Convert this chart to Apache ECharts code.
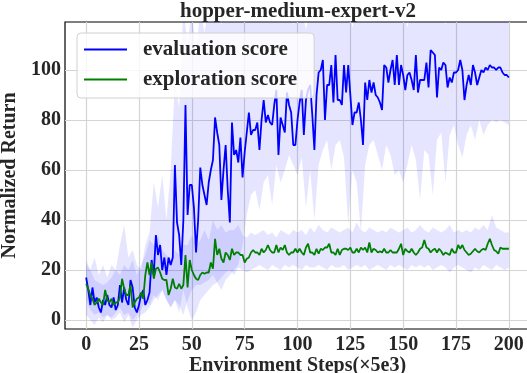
<!DOCTYPE html>
<html>
<head>
<meta charset="utf-8">
<script src="https://cdn.jsdelivr.net/npm/echarts@6/dist/echarts.min.js"></script>
<style>
html, body { margin: 0; padding: 0; background: #fff; }
#chart { width: 527px; height: 373px; }
</style>
</head>
<body>
<div id="chart"></div>
<script>
// one value per step, x = 0..200
var evalScore = [
    17, 12, 6, 13, 7, 9, 5, 3, 8, 6,
    10, 6, 5, 9, 4, 6, 14, 7, 13, 8,
    6, 16, 13, 5, 3, 6, 10, 12, 6, 8,
    11, 24, 18, 34, 26, 30, 20, 25, 18, 25,
    22, 25, 62, 39, 34, 22, 40, 86, 42, 54,
    54, 45, 27, 40, 61, 54, 50, 46, 55, 60,
    64, 81, 75, 70, 48, 60, 70, 52, 39, 79,
    66, 68, 63, 73, 57, 67, 75, 83, 74, 76,
    76, 79, 68, 80, 88, 79, 82, 79, 78, 86,
    92, 66, 81, 78, 75, 91, 86, 83, 70, 70,
    80, 87, 92, 74, 88, 92, 94, 82, 68, 90,
    99, 100, 104, 80, 94, 94, 102, 87, 106, 88,
    88, 86, 102, 91, 102, 90, 78, 83, 83, 87,
    80, 70, 95, 88, 96, 91, 95, 90, 89, 87,
    84, 102, 101, 95, 100, 104, 94, 106, 94, 102,
    98, 92, 98, 99, 96, 92, 106, 91, 96, 96,
    96, 103, 93, 108, 107, 106, 89, 101, 100, 103,
    102, 93, 97, 95, 99, 99, 100, 104, 100, 88,
    94, 98, 94, 102, 99, 94, 97, 100, 99, 101,
    100, 102, 101, 101, 100, 101, 101, 99, 98, 98,
    97
]
var exploreScore = [
    14.5, 12.5, 10, 8.5, 6, 7, 8.5, 7, 6, 12,
    8, 7, 8.5, 6, 7, 7, 9, 16.5, 12.5, 10,
    10, 14, 5, 7, 8.5, 9, 11, 8.5, 18, 23,
    18, 23, 16.5, 20.5, 21, 19, 16.5, 16, 16, 10,
    12.5, 16.5, 13, 12.5, 14.5, 12.5, 14, 26, 13, 24,
    20, 18, 16.5, 16, 18, 19, 18.5, 19, 19, 23,
    20.5, 32.5, 26, 28.5, 24.5, 23, 27, 26, 24, 28.5,
    26, 27, 27, 26, 26, 23, 24.5, 25, 27, 28,
    27, 27, 26, 28.5, 27, 28, 30, 28, 27, 27,
    30, 27, 29, 28, 30, 27, 26, 27, 27, 28.5,
    27, 28.5, 27, 26, 29, 30.5, 27, 27, 26, 28.5,
    26.5, 28.5, 28, 29, 29, 30.5, 27, 27, 26, 28.5,
    26, 28, 28.5, 28.5, 28, 29, 27, 27, 28.5, 27,
    29, 28, 29, 27, 31, 27, 28.5, 28, 27, 27.5,
    27, 28.5, 27, 27, 28, 27, 27, 27, 28.5, 30.5,
    26, 28.5, 27.5, 27, 28.5, 27, 26, 27, 28.5, 29,
    32, 29, 28.5, 27, 28, 28.5, 27, 28.5, 27.5, 26,
    27, 26.5, 26, 28.5, 27, 27, 30, 28.5, 30, 28,
    27, 26, 26.5, 27.5, 28.5, 27.5, 27, 28, 28.5, 28,
    30.5, 32.5, 30, 28, 27.5, 26.5, 29, 28.5, 28.5, 28.5,
    28.5
]
// shaded bands, one value every 2 steps, x = 0, 2, ..., 200
var evalUpper = [
    24, 20, 25, 18, 22, 17, 22, 20, 30, 38,
    25, 28, 22, 20, 30, 35, 55, 45, 58, 40,
    60, 95, 85, 125, 110, 125, 105, 125, 115, 125,
    125, 125, 118, 125, 125, 125, 120, 125, 125, 125,
    125, 122, 125, 125, 125, 125, 125, 125, 125, 118,
    125, 125, 116, 125, 120, 125, 125, 125, 125, 125,
    125, 125, 125, 117, 125, 125, 125, 125, 125, 125,
    125, 125, 125, 125, 125, 125, 117, 125, 125, 125,
    125, 125, 125, 125, 125, 118, 125, 125, 125, 125,
    125, 125, 125, 125, 125, 125, 125, 125, 125, 125,
    125
]
var evalLower = [
    2, 0, -2, 1, -1, 2, 0, 1, 3, -1,
    2, -3, 0, 2, 3, 5, 8, 10, 12, 8,
    5, 8, 3, 12, 5, 0, 3, 8, 10, 12,
    14, 15, 12, 16, 18, 20, 22, 30, 42, 50,
    52, 44, 55, 58, 46, 62, 55, 60, 66, 62,
    58, 65, 45, 60, 40, 62, 68, 72, 60, 70,
    72, 65, 38, 60, 55, 35, 62, 70, 72, 66,
    60, 70, 66, 58, 60, 55, 62, 70, 64, 48,
    68, 66, 50, 72, 75, 55, 74, 78, 70, 65,
    74, 78, 72, 80, 74, 78, 80, 79, 80, 79,
    78
]
var exploreUpper = [
    22, 20, 16, 15, 14, 15, 17, 20, 18, 22,
    20, 24, 18, 22, 26, 32, 30, 34, 28, 26,
    24, 28, 26, 30, 30, 34, 30, 32, 36, 32,
    40, 36, 38, 35, 36, 36, 38, 34, 33, 35,
    34, 35, 36, 34, 35, 33, 36, 35, 34, 36,
    35, 36, 34, 37, 35, 38, 36, 35, 37, 36,
    35, 36, 37, 35, 39, 36, 35, 37, 36, 35,
    36, 35, 37, 36, 35, 36, 37, 35, 36, 38,
    36, 35, 37, 36, 35, 36, 38, 35, 36, 35,
    36, 35, 37, 36, 38, 36, 42, 37, 36, 35,
    35
]
var exploreLower = [
    8, 4, 2, 3, 1, 2, 1, 3, 5, 2,
    3, 0, 2, 4, 8, 6, 10, 8, 12, 8,
    5, 8, 6, 2, 8, 12, 14, 14, 15, 16,
    18, 15, 17, 19, 20, 18, 21, 20, 19, 20,
    21, 22, 21, 20, 22, 21, 20, 22, 21, 22,
    21, 20, 22, 21, 21, 22, 21, 20, 22, 21,
    21, 22, 20, 21, 22, 21, 22, 20, 21, 22,
    21, 20, 22, 21, 22, 21, 20, 22, 21, 22,
    21, 22, 20, 21, 22, 21, 19, 21, 22, 21,
    20, 19, 21, 20, 22, 21, 20, 22, 21, 20,
    21
]
var xTicks = [0, 25, 50, 75, 100, 125, 150, 175, 200]
var yTicks = [0, 20, 40, 60, 80, 100]

var font = 'Liberation Serif'
var textColor = '#262626'

function pairs(step, ys) {
    return ys.map(function (y, i) { return [i * step, y] })
}

// band = one polygon: upper edge left to right, lower edge back
function band(step, lower, upper) {
    return {
        type: 'custom',
        silent: true,
        clip: true,
        data: lower.map(function (v, i) { return [i * step, v, upper[i]] }),
        renderItem: function (params, api) {
            if (params.dataIndex !== 0) return null
            var n = params.dataInsideLength
            var top = [], bottom = []
            for (var i = 0; i < n; i++) {
                var x = api.value(0, i)
                top.push(api.coord([x, api.value(2, i)]))
                bottom.unshift(api.coord([x, api.value(1, i)]))
            }
            return {
                type: 'polygon',
                shape: { points: top.concat(bottom) },
                style: { fill: 'rgba(0,0,255,0.1)' }
            }
        }
    }
}

var chart = echarts.init(document.getElementById('chart'))
chart.setOption({
    animation: false,
    title: {
        text: 'hopper-medium-expert-v2',
        left: 298, top: 1, padding: 0, textAlign: 'center',
        textStyle: { fontFamily: font, fontWeight: 'bold', fontSize: 21, color: textColor }
    },
    legend: {
        data: ['evaluation score', 'exploration score'],
        orient: 'vertical',
        left: 77, top: 33,
        padding: [6, 17, 8, 7],
        itemGap: 9,
        itemWidth: 43, itemHeight: 2,
        icon: 'rect',
        backgroundColor: 'rgba(255,255,255,0.8)',
        borderColor: '#d0d0d0', borderWidth: 1, borderRadius: 4,
        textStyle: { fontFamily: font, fontWeight: 'bold', fontSize: 21, color: textColor, padding: [0, 0, 0, 11] }
    },
    grid: {
        left: 65, top: 22, right: -3, bottom: 44,
        outerBoundsMode: 'none',
        show: true, borderColor: '#000', borderWidth: 1.2
    },
    xAxis: {
        type: 'value', min: -10, max: 210,
        name: 'Environment Steps(×5e3)', nameLocation: 'middle', nameGap: 27, nameMoveOverlap: false,
        nameTextStyle: { fontFamily: font, fontWeight: 'bold', fontSize: 20, color: textColor },
        axisLine: { show: false },
        axisTick: { show: false, customValues: xTicks },
        axisLabel: { customValues: xTicks, margin: 6, fontFamily: font, fontWeight: 'bold', fontSize: 20, color: textColor },
        splitLine: { show: true, lineStyle: { color: '#d4d4d4', width: 1.2 } }
    },
    yAxis: {
        type: 'value', min: -3.6, max: 119.2,
        name: 'Normalized Return', nameLocation: 'middle', nameGap: 41,
        nameTextStyle: { fontFamily: font, fontWeight: 'bold', fontSize: 20, color: textColor },
        axisLine: { show: false },
        axisTick: { show: false, customValues: yTicks },
        axisLabel: { customValues: yTicks, margin: 4, fontFamily: font, fontWeight: 'bold', fontSize: 20, color: textColor },
        splitLine: { show: true, lineStyle: { color: '#d4d4d4', width: 1.2 } }
    },
    series: [
        band(2, evalLower, evalUpper),
        band(2, exploreLower, exploreUpper),
        {
            name: 'evaluation score', type: 'line', data: pairs(1, evalScore),
            symbol: 'none', color: '#0000ff', lineStyle: { width: 1.8 }
        }, {
            name: 'exploration score', type: 'line', data: pairs(1, exploreScore),
            symbol: 'none', color: '#008000', lineStyle: { width: 1.8 }
        }
    ]
})
</script>
</body>
</html>
